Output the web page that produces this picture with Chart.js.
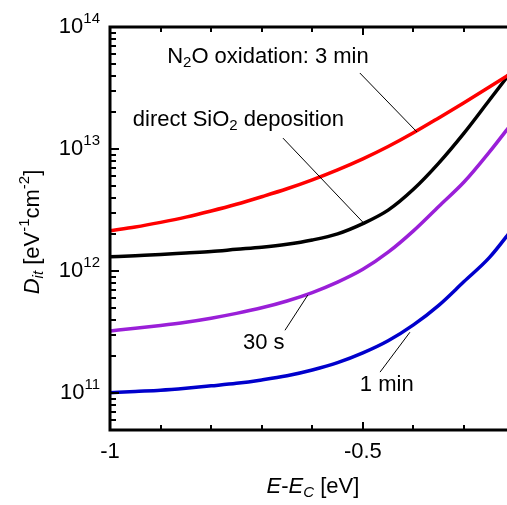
<!DOCTYPE html>
<html>
<head>
<meta charset="utf-8">
<script src="https://cdn.jsdelivr.net/npm/chart.js@4.4.1/dist/chart.umd.min.js"></script>
<style>
html, body { margin: 0; padding: 0; background: #fff; }
#wrap { width: 507px; height: 505px; position: relative; }
</style>
</head>
<body>
<div id="wrap"><canvas id="dit"></canvas></div>
<script>
// E - Ec [eV]
const energy = [-1, -0.95, -0.9, -0.85, -0.8, -0.75, -0.7, -0.65, -0.6, -0.55, -0.5, -0.45, -0.4, -0.35, -0.3, -0.25, -0.2];
// Dit [eV^-1 cm^-2]
const n2o3min = [2.14e12, 2.30e12, 2.51e12, 2.77e12, 3.11e12, 3.53e12, 4.07e12, 4.73e12, 5.60e12, 6.76e12, 8.32e12, 1.05e13, 1.36e13, 1.80e13, 2.40e13, 3.22e13, 4.35e13];
const directSiO2 = [1.31e12, 1.34e12, 1.37e12, 1.41e12, 1.45e12, 1.51e12, 1.57e12, 1.66e12, 1.80e12, 2.02e12, 2.45e12, 3.16e12, 4.68e12, 7.67e12, 1.35e13, 2.51e13, 4.68e13];
const n2o30s = [3.24e11, 3.40e11, 3.59e11, 3.82e11, 4.12e11, 4.51e11, 5.01e11, 5.70e11, 6.68e11, 8.13e11, 1.035e12, 1.43e12, 2.14e12, 3.39e12, 5.37e12, 9.44e12, 1.74e13];
const n2o1min = [1.01e11, 1.035e11, 1.06e11, 1.10e11, 1.15e11, 1.205e11, 1.285e11, 1.39e11, 1.55e11, 1.78e11, 2.14e11, 2.69e11, 3.63e11, 5.25e11, 8.22e11, 1.29e12, 2.34e12];

const yMajor = [1e11, 1e12, 1e13, 1e14];
const yMajorExp = ['11', '12', '13', '14'];
const xMajor = [-1, -0.5];
const xMajorLabels = ['-1', '-0.5'];
const xMinor = [-0.9, -0.8, -0.7, -0.6, -0.4, -0.3];

// annotation text anchors and leader lines, in data units
const notes = [
    { parts: [['N'], ['2', 'sub'], ['O oxidation: 3 min']], at: [-0.887, 5.7e13], line: [[-0.506, 4.2e13], [-0.393, 1.38e13]] },
    { parts: [['direct SiO'], ['2', 'sub'], [' deposition']], at: [-0.955, 1.73e13], line: [[-0.658, 1.23e13], [-0.5, 2.52e12]] },
    { parts: [['30 s']], at: [-0.737, 2.57e11], line: [[-0.654, 3.28e11], [-0.609, 6.36e11]] },
    { parts: [['1 min']], at: [-0.506, 1.16e11], line: [[-0.466, 1.49e11], [-0.407, 3.16e11]] }
];

const FONT = '"Liberation Sans", Arial, sans-serif';

function toPoints(values) {
    return energy.map((e, i) => ({ x: e, y: values[i] }));
}

function fontFor(kind) {
    const italic = kind && kind.indexOf('i') === 0 ? 'italic ' : '';
    const small = kind && (kind.indexOf('sub') >= 0 || kind.indexOf('sup') >= 0);
    return italic + (small ? '15px ' : '22px ') + FONT;
}

function offsetFor(kind) {
    if (!kind) return 0;
    if (kind.indexOf('sub') >= 0) return 6;
    if (kind.indexOf('sup') >= 0) return -8;
    return 0;
}

// draws text made of plain / sub / sup pieces, vertically centred on y
function drawRich(ctx, parts, x, y, align) {
    let total = 0;
    parts.forEach(p => { ctx.font = fontFor(p[1]); total += ctx.measureText(p[0]).width; });
    let cx = align === 'right' ? x - total : align === 'center' ? x - total / 2 : x;
    ctx.textBaseline = 'middle';
    ctx.textAlign = 'left';
    parts.forEach(p => {
        ctx.font = fontFor(p[1]);
        ctx.fillText(p[0], cx, y + offsetFor(p[1]));
        cx += ctx.measureText(p[0]).width;
    });
}

const framePlugin = {
    id: 'frame',
    afterDatasetsDraw(chart) {
        const ctx = chart.ctx;
        const xs = chart.scales.x;
        const ys = chart.scales.y;
        const area = chart.chartArea;
        ctx.save();
        ctx.fillStyle = '#000';
        ctx.strokeStyle = '#000';

        // leader lines + notes
        ctx.lineWidth = 1;
        notes.forEach(n => {
            ctx.beginPath();
            ctx.moveTo(xs.getPixelForValue(n.line[0][0]), ys.getPixelForValue(n.line[0][1]));
            ctx.lineTo(xs.getPixelForValue(n.line[1][0]), ys.getPixelForValue(n.line[1][1]));
            ctx.stroke();
            drawRich(ctx, n.parts, xs.getPixelForValue(n.at[0]), ys.getPixelForValue(n.at[1]), 'left');
        });

        // frame
        ctx.lineWidth = 3;
        ctx.beginPath();
        ctx.moveTo(chart.width + 2, area.top);
        ctx.lineTo(area.left, area.top);
        ctx.lineTo(area.left, area.bottom);
        ctx.lineTo(chart.width + 2, area.bottom);
        ctx.stroke();

        // x ticks, bottom and top, pointing inwards
        ctx.lineWidth = 2;
        xMajor.concat(xMinor).forEach(v => {
            const px = Math.round(xs.getPixelForValue(v));
            const len = xMajor.includes(v) ? 8 : 5;
            ctx.beginPath();
            ctx.moveTo(px, area.bottom);
            ctx.lineTo(px, area.bottom - len);
            ctx.moveTo(px, area.top);
            ctx.lineTo(px, area.top + len);
            ctx.stroke();
        });

        // y ticks, log minor ticks
        for (let dec = 10; dec <= 13; dec++) {
            for (let m = 1; m <= 9; m++) {
                const v = m * Math.pow(10, dec);
                if (v < ys.min || v > ys.max) continue;
                const py = Math.round(ys.getPixelForValue(v));
                const len = m === 1 ? 9 : 6;
                ctx.beginPath();
                ctx.moveTo(area.left, py);
                ctx.lineTo(area.left + len, py);
                ctx.stroke();
            }
        }

        // tick labels
        yMajor.forEach((v, i) => {
            const py = ys.getPixelForValue(v);
            drawRich(ctx, [['10'], [yMajorExp[i], 'sup']], area.left - 10, py, 'right');
        });
        ctx.font = '22px ' + FONT;
        ctx.textAlign = 'center';
        ctx.textBaseline = 'middle';
        xMajor.forEach((v, i) => {
            ctx.fillText(xMajorLabels[i], xs.getPixelForValue(v), area.bottom + 22);
        });

        // axis titles
        drawRich(ctx, [['E', 'i'], ['-'], ['E', 'i'], ['C', 'isub'], [' [eV]']], 313, 487, 'center');
        ctx.translate(33, 232);
        ctx.rotate(-Math.PI / 2);
        drawRich(ctx, [['D', 'i'], ['it', 'isub'], [' [eV'], ['-1', 'sup'], ['cm'], ['-2', 'sup'], [']']], 0, 0, 'center');
        ctx.restore();
    }
};

function series(label, values, color) {
    return {
        label: label,
        data: toPoints(values),
        borderColor: color,
        backgroundColor: color,
        borderWidth: 3.5,
        pointRadius: 0,
        cubicInterpolationMode: 'monotone',
        fill: false
    };
}

new Chart(document.getElementById('dit'), {
    type: 'line',
    data: {
        datasets: [
            series('N2O oxidation: 3 min', n2o3min, '#ff0000'),
            series('direct SiO2 deposition', directSiO2, '#000000'),
            series('30 s', n2o30s, '#9a1fd8'),
            series('1 min', n2o1min, '#0000cc')
        ]
    },
    options: {
        responsive: true,
        maintainAspectRatio: false,
        animation: false,
        layout: { padding: { left: 110, top: 27, right: 0, bottom: 75 } },
        plugins: {
            legend: { display: false },
            tooltip: { enabled: false }
        },
        scales: {
            x: { type: 'linear', min: -1, max: -0.215, display: false },
            y: { type: 'logarithmic', min: 5e10, max: 1e14, display: false }
        }
    },
    plugins: [framePlugin]
});
</script>
</body>
</html>
